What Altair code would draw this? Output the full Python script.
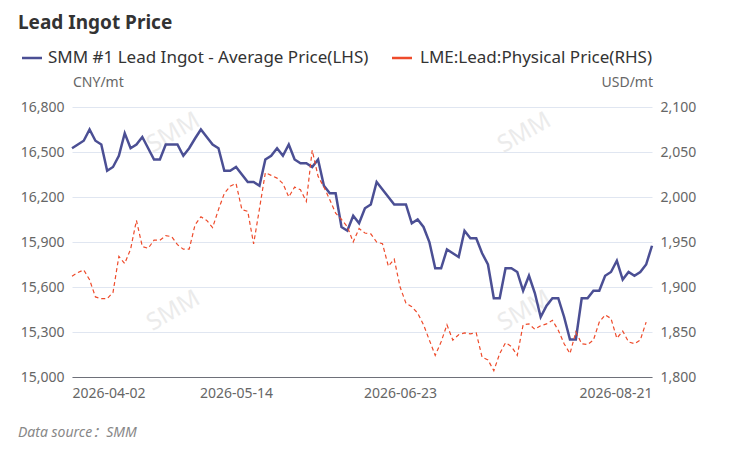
import altair as alt
import pandas as pd

# SMM #1 lead ingot, CNY/mt (left axis), one value per trading day
smm_lead = [16525, 16550, 16575, 16650, 16575, 16550, 16375, 16400, 16475, 16625,
            16525, 16550, 16600, 16525, 16450, 16450, 16550, 16550, 16550, 16475,
            16525, 16590, 16650, 16600, 16550, 16525, 16375, 16375, 16400, 16350,
            16300, 16300, 16275, 16450, 16475, 16525, 16475, 16550, 16450, 16425,
            16425, 16400, 16450, 16275, 16225, 16225, 16000, 15975, 16075, 16025,
            16125, 16150, 16300, 16250, 16200, 16150, 16150, 16150, 16025, 16050,
            16000, 15900, 15725, 15725, 15850, 15825, 15800, 15975, 15925, 15925,
            15825, 15750, 15525, 15525, 15725, 15725, 15700, 15575, 15675, 15560,
            15400, 15475, 15525, 15525, 15400, 15250, 15250, 15525, 15525, 15575,
            15575, 15675, 15700, 15775, 15650, 15700, 15675, 15700, 15750, 15875]

# LME lead physical, USD/mt (right axis); no print yet for the last day
lme_lead = [1912, 1916, 1919, 1908, 1889, 1887, 1887, 1894, 1934, 1926,
            1942, 1974, 1945, 1943, 1952, 1952, 1957, 1956, 1947, 1942,
            1942, 1969, 1978, 1974, 1966, 1986, 2004, 2012, 2015, 1986,
            1984, 1948, 1987, 2027, 2024, 2021, 2015, 2000, 2011, 2008,
            1995, 2052, 2023, 2011, 1997, 1982, 1975, 1967, 1950, 1965,
            1960, 1959, 1950, 1948, 1923, 1931, 1900, 1882, 1878, 1871,
            1858, 1841, 1824, 1839, 1858, 1841, 1847, 1849, 1848, 1849,
            1822, 1819, 1807, 1826, 1838, 1834, 1824, 1858, 1859, 1853,
            1857, 1859, 1863, 1852, 1837, 1826, 1850, 1837, 1836, 1841,
            1861, 1869, 1865, 1843, 1851, 1839, 1837, 1841, 1861]

tick_idx = [0, 28, 56, 99]
tick_labels = ["2026-04-02", "2026-05-14", "2026-06-23", "2026-08-21"]
left_ticks = [15000, 15300, 15600, 15900, 16200, 16500, 16800]
right_ticks = [1800, 1850, 1900, 1950, 2000, 2050, 2100]

SMM_NAME = "SMM #1 Lead Ingot - Average Price(LHS)"
LME_NAME = "LME:Lead:Physical Price(RHS)"
_BLUE = "#4b4f94"
_RED = "#ee4b2b"
_FONT = "Noto Sans, Noto Sans CJK SC"

smm_df = pd.DataFrame({"day": range(len(smm_lead)), "price": smm_lead, "series": SMM_NAME})
lme_df = pd.DataFrame({"day": range(len(lme_lead)), "price": lme_lead, "series": LME_NAME})

label_expr = " : ".join(
    f"datum.value == {i} ? '{d}'" for i, d in zip(tick_idx, tick_labels)) + " : ''"

x_enc = alt.X(
    "day:Q", title=None,
    scale=alt.Scale(domain=[0, len(smm_lead) - 1], nice=False, zero=False),
    axis=alt.Axis(values=tick_idx, labelExpr=label_expr, labelFlush=True,
                  grid=False, ticks=False, domainColor="#6e7079",
                  labelPadding=9, labelFontSize=14, labelColor="#666"),
)
color = alt.Color(
    "series:N",
    scale=alt.Scale(domain=[SMM_NAME, LME_NAME], range=[_BLUE, _RED]),
    legend=None,
)

smm_line = (
    alt.Chart(smm_df)
    .mark_line(strokeWidth=2.5)
    .encode(
        x=x_enc,
        y=alt.Y("price:Q", title=None,
                scale=alt.Scale(domain=[15000, 16800], nice=False, zero=False),
                axis=alt.Axis(orient="left", values=left_ticks, format=",.0f",
                              grid=True, gridColor="#e0e6f1", domain=False,
                              ticks=False, labelPadding=8, labelFontSize=14,
                              labelColor="#666")),
        color=color,
    )
)
lme_line = (
    alt.Chart(lme_df)
    .mark_line(strokeWidth=1.2, strokeDash=[4, 3])
    .encode(
        x=x_enc,
        y=alt.Y("price:Q", title=None,
                scale=alt.Scale(domain=[1800, 2100], nice=False, zero=False),
                axis=alt.Axis(orient="right", values=right_ticks, format=",.0f",
                              grid=False, domain=False, ticks=False,
                              labelPadding=8, labelFontSize=14, labelColor="#666")),
        color=color,
    )
)


def label(text, x, y, baseline="alphabetic", **style):
    return (
        alt.Chart(pd.DataFrame({"t": [text]}))
        .mark_text(font=_FONT, baseline=baseline, **style)
        .encode(x=alt.value(x), y=alt.value(y), text="t:N")
    )


def swatch(name, colour, x, y):
    # solid legend key, as in the reference, even for the dashed series
    return (
        alt.Chart(pd.DataFrame({"s": [name]}))
        .mark_rule(color=colour, strokeWidth=2.5)
        .encode(x=alt.value(x), x2=alt.value(x + 20), y=alt.value(y))
    )


watermarks = [
    label("SMM", x, y, fontSize=24, color="#ebebeb", angle=330, align="center")
    for x, y in [(105, 32), (105, 210), (456, 32), (456, 210)]
]

legend = [
    swatch(SMM_NAME, _BLUE, -50, -49),
    label(SMM_NAME, -24, -49, baseline="middle", fontSize=17, color="#333", align="left"),
    swatch(LME_NAME, _RED, 320, -49),
    label(LME_NAME, 348, -49, baseline="middle", fontSize=17, color="#333", align="left"),
]

chart = (
    alt.layer(
        *watermarks,
        smm_line,
        lme_line,
        *legend,
        label("Lead Ingot Price", -54, -78, fontSize=19, fontWeight="bold",
              color="#333", align="left"),
        label("CNY/mt", 1, -20, fontSize=14, color="#666", align="left"),
        label("USD/mt", 581, -20, fontSize=14, color="#666", align="right"),
        label("Data source：SMM", -54, 330, fontSize=14, fontStyle="italic",
              color="#888", align="left"),
    )
    .resolve_scale(y="independent")
    .properties(width=580, height=270, autosize=alt.AutoSizeParams(type="none"),
                padding={"left": 64, "top": 99, "right": 70, "bottom": 64})
    .configure_view(stroke=None)
    .configure_axis(labelFont=_FONT)
)

chart.save("out.html", embed_options={"renderer": "svg", "actions": False})
